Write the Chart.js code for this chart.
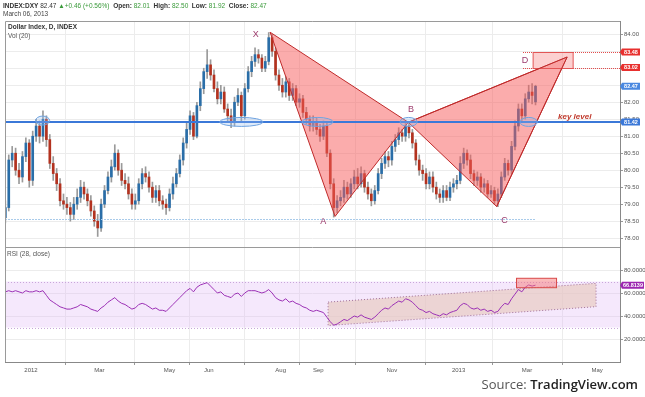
<!DOCTYPE html>
<html lang="en">
<head>
<meta charset="UTF-8">
<title>Dollar Index, D, INDEX</title>
<script src="https://cdn.jsdelivr.net/npm/chart.js"></script>
<style>
  html, body { margin: 0; padding: 0; background: #fff; }
  #wrap { width: 645px; height: 397px; }
</style>
</head>
<body>
<div id="wrap"><canvas id="dxyChart" width="645" height="397"></canvas></div>
<script>
// one candle every two trading days, day 0 = first trading day of 2012
const firstDay = -15;
const dayStep = 2;

const opens = [
  78.6,78.9,80.3,80.5,80.0,79.8,80.4,80.8,79.7,81.0,
  81.3,81.0,81.5,80.9,80.2,79.9,79.6,79.1,79.0,78.9,
  78.7,79.0,79.2,79.5,79.3,79.1,78.8,78.5,78.3,79.0,
  79.4,79.8,80.1,80.5,80.0,79.7,79.6,79.3,79.0,79.1,
  79.6,79.9,79.8,79.5,79.2,79.4,79.1,79.0,78.9,79.3,
  79.6,79.9,80.3,80.8,81.2,81.6,81.0,81.9,82.4,82.9,
  83.1,82.8,82.4,82.1,82.3,81.8,81.6,81.4,82.0,82.2,
  81.6,82.4,82.9,83.2,83.4,83.3,83.0,83.2,83.9,83.5,
  82.8,82.5,82.3,82.6,82.2,82.4,82.0,82.1,81.7,81.5,
  81.3,81.4,81.2,81.0,81.3,80.5,79.6,78.9,79.1,79.2,
  79.5,79.3,79.6,79.8,79.6,79.9,79.5,79.3,79.1,79.4,
  79.9,80.2,80.4,80.3,80.7,80.9,81.1,81.0,81.3,81.1,
  80.8,80.3,80.0,79.9,79.6,79.8,79.5,79.3,79.2,79.4,
  79.2,79.5,79.6,79.7,80.2,80.5,80.3,79.9,79.7,79.8,
  79.5,79.6,79.3,79.4,79.1,79.3,79.8,80.2,80.0,80.7,
  81.3,81.8,81.6,82.1,82.3,82.01
];
const highs = [
  79.1,80.45,80.7,80.65,80.2,80.55,80.95,80.9,81.15,81.5,
  81.45,81.75,81.6,81.05,80.4,80.05,79.75,79.3,79.2,79.05,
  79.2,79.45,79.7,79.65,79.45,79.25,78.95,78.7,79.15,79.55,
  79.95,80.3,80.75,80.6,80.2,79.9,79.8,79.45,79.3,79.75,
  80.05,80.1,79.95,79.65,79.55,79.55,79.25,79.15,79.45,79.8,
  80.05,80.45,80.95,81.4,81.75,81.7,82.0,82.6,83.0,83.55,
  83.25,82.95,82.6,82.5,82.45,81.95,81.8,82.15,82.4,82.3,
  82.55,83.05,83.35,83.6,83.55,83.4,83.35,84.05,84.0,83.6,
  82.95,82.7,82.75,82.7,82.55,82.5,82.25,82.2,81.85,81.6,
  81.6,81.55,81.35,81.45,81.4,80.6,79.75,79.25,79.4,79.7,
  79.65,79.75,80.0,80.05,80.1,80.0,79.65,79.45,79.55,80.05,
  80.35,80.55,80.55,80.85,81.05,81.25,81.2,81.45,81.4,81.2,
  80.9,80.45,80.15,80.05,79.95,79.95,79.65,79.45,79.55,79.55,
  79.65,79.75,79.85,80.4,80.65,80.6,80.45,80.0,79.95,79.9,
  79.75,79.7,79.55,79.5,79.45,79.95,80.35,80.3,80.85,81.45,
  81.95,81.95,82.25,82.5,82.55,82.50
];
const lows = [
  78.45,78.8,80.1,79.85,79.6,79.65,80.25,79.5,79.55,80.85,
  80.8,80.85,80.7,80.05,79.7,79.4,78.95,78.85,78.7,78.5,
  78.55,78.85,79.05,79.15,78.95,78.65,78.35,78.05,78.2,78.9,
  79.3,79.65,80.0,79.85,79.55,79.45,79.15,78.85,78.85,79.0,
  79.45,79.65,79.35,79.05,79.05,78.95,78.85,78.7,78.8,79.15,
  79.5,79.8,80.15,80.65,81.05,80.9,80.95,81.75,82.25,82.7,
  82.65,82.3,81.95,81.95,81.7,81.45,81.25,81.3,81.9,81.45,
  81.5,82.3,82.75,83.05,83.15,82.9,82.9,83.1,83.35,82.65,
  82.35,82.15,82.15,82.05,82.05,81.9,81.85,81.55,81.35,81.15,
  81.15,81.05,80.85,80.9,80.4,79.45,78.62,78.75,78.95,79.05,
  79.15,79.2,79.45,79.45,79.5,79.35,79.15,78.95,79.0,79.3,
  79.75,80.05,80.1,80.15,80.55,80.75,80.85,80.85,80.95,80.65,
  80.15,79.85,79.7,79.45,79.45,79.35,79.15,79.05,79.05,79.1,
  79.1,79.35,79.45,79.6,80.05,80.15,79.75,79.55,79.55,79.35,
  79.35,79.2,79.2,79.0,78.93,79.2,79.7,79.85,79.9,80.6,
  81.15,81.45,81.5,82.0,81.95,81.92
];
const closes = [
  78.9,80.3,80.5,80.0,79.8,80.4,80.8,79.7,81.0,81.3,
  81.0,81.5,80.9,80.2,79.9,79.6,79.1,79.0,78.9,78.7,
  79.0,79.2,79.5,79.3,79.1,78.8,78.5,78.3,79.0,79.4,
  79.8,80.1,80.5,80.0,79.7,79.6,79.3,79.0,79.1,79.6,
  79.9,79.8,79.5,79.2,79.4,79.1,79.0,78.9,79.3,79.6,
  79.9,80.3,80.8,81.2,81.6,81.0,81.9,82.4,82.9,83.1,
  82.8,82.4,82.1,82.3,81.8,81.6,81.4,82.0,82.2,81.6,
  82.4,82.9,83.2,83.4,83.3,83.0,83.2,83.9,83.5,82.8,
  82.5,82.3,82.6,82.2,82.4,82.0,82.1,81.7,81.5,81.3,
  81.4,81.2,81.0,81.3,80.5,79.6,78.9,79.1,79.2,79.5,
  79.3,79.6,79.8,79.6,79.9,79.5,79.3,79.1,79.4,79.9,
  80.2,80.4,80.3,80.7,80.9,81.1,81.0,81.3,81.1,80.8,
  80.3,80.0,79.9,79.6,79.8,79.5,79.3,79.2,79.4,79.2,
  79.5,79.6,79.7,80.2,80.5,80.3,79.9,79.7,79.8,79.5,
  79.6,79.3,79.4,79.1,79.3,79.8,80.2,80.0,80.7,81.3,
  81.8,81.6,82.1,82.3,82.2,82.47
];
const rsi = [
  61,62,61,62,61,60,62,61,61,62,61,62,
  58,54,52,50,48,
  47,46,46,47,48,50,49,48,46,45,44,47,49,
  52,54,56,53,51,50,
  48,46,47,50,51,50,48,46,47,45,45,44,
  47,50,53,56,59,62,64,
  61,65,67,68,69,66,
  63,60,61,58,57,56,59,60,57,
  60,62,62,62,61,60,61,63,
  60,56,54,53,55,52,53,
  51,50,48,47,45,44,45,44,43,39,35,32,
  33,35,37,36,38,40,39,41,39,38,37,39,42,45,47,46,49,51,53,52,55,
  54,52,49,46,45,43,44,42,41,40,42,41,43,44,45,49,51,50,47,46,47,45,46,44,45,43,44,
  48,51,50,55,59,63,61,65,67,66,66.81
];

const xTickDays = [0, 40, 81, 104, 146, 168, 211, 250, 290, 331];
const xTickLabels = ["2012", "Mar", "May", "Jun", "Aug", "Sep", "Nov", "2013", "Mar", "May"];
const priceTicks = [78, 78.5, 79, 79.5, 80, 80.5, 81, 81.5, 82, 82.5, 83, 83.5, 84];
const rsiTicks = [20, 40, 60, 80];

// XABCD pattern
const patternNames = ["X", "A", "B", "C", "D"];
const patternDays = [139.8, 177.8, 220.6, 272.3, 313.5];
const patternPrices = [84.06, 78.64, 81.41, 78.93, 83.33];
const nameDays = [131.4, 170.9, 222.2, 276.8, 288.9];
const namePrices = [83.98, 78.49, 81.80, 78.51, 83.24];

const keyLevel = 81.42;
const supportLevel = 78.57;
const supportEndDay = 295;
const targetLow = 83.02, targetHigh = 83.48;
const targetDays = [293.6, 317];
const targetLineStart = 287.7;
const lastPrice = 82.47;
const lastRsi = 66.8139;

// touches of the key level
const touchDays = [6.8, 123, 167.5, 220.8, 291];
const touchPrices = [81.46, 81.42, 81.42, 81.42, 81.42];
const touchHalfDays = [4.1, 12.6, 9.1, 5, 5.1];

// RSI channel and band
const rsiBand = [30, 70];
const channelDays = [173.7, 330.4];
const channelTop = [52.1, 68.4];
const channelBottom = [31.7, 48.1];
const rsiBoxDays = [283.9, 307.3];
const rsiBox = [64.6, 72.8];

const header = [
  ["INDEX:DXY ", "#333", "bold"], ["82.47 ", "#333", ""], ["\u25B2", "#3a9a3a", ""],
  ["+0.46 (+0.56%)  ", "#3a9a3a", ""], ["Open: ", "#333", "bold"], ["82.01  ", "#3a9a3a", ""],
  ["High: ", "#333", "bold"], ["82.50  ", "#3a9a3a", ""], ["Low: ", "#333", "bold"],
  ["81.92  ", "#3a9a3a", ""], ["Close: ", "#333", "bold"], ["82.47", "#3a9a3a", ""]
];

const FONT = "'Liberation Sans', Arial, sans-serif";
const days = closes.map((_, i) => firstDay + i * dayStep);
const isUp = closes.map((c, i) => c >= opens[i]);

const overlay = {
  id: 'overlay',
  beforeDatasetsDraw(chart) {
    const { ctx, chartArea: a, scales: { x, rsi: r } } = chart;
    ctx.save();
    const yTop = r.getPixelForValue(rsiBand[1]), yBot = r.getPixelForValue(rsiBand[0]);
    ctx.fillStyle = 'rgba(225,190,245,0.35)';
    ctx.fillRect(a.left, yTop, a.right - a.left, yBot - yTop);
    ctx.strokeStyle = '#c9a6da';
    ctx.lineWidth = 1;
    ctx.setLineDash([1, 2]);
    [yTop, yBot].forEach(yy => {
      ctx.beginPath(); ctx.moveTo(a.left, Math.round(yy) + 0.5); ctx.lineTo(a.right, Math.round(yy) + 0.5); ctx.stroke();
    });
    // channel
    const x0 = x.getPixelForValue(channelDays[0]), x1 = x.getPixelForValue(channelDays[1]);
    ctx.beginPath();
    ctx.moveTo(x0, r.getPixelForValue(channelTop[0]));
    ctx.lineTo(x1, r.getPixelForValue(channelTop[1]));
    ctx.lineTo(x1, r.getPixelForValue(channelBottom[1]));
    ctx.lineTo(x0, r.getPixelForValue(channelBottom[0]));
    ctx.closePath();
    ctx.fillStyle = 'rgba(230,196,180,0.55)';
    ctx.fill();
    ctx.strokeStyle = '#a0709a';
    ctx.stroke();
    ctx.restore();
  },
  afterDatasetsDraw(chart) {
    const { ctx, chartArea: a, scales: { x, y, rsi: r } } = chart;
    ctx.save();
    const px = patternDays.map(d => x.getPixelForValue(d));
    const py = patternPrices.map(p => y.getPixelForValue(p));
    [[0, 1, 2], [2, 3, 4]].forEach(t => {
      ctx.beginPath();
      ctx.moveTo(px[t[0]], py[t[0]]);
      ctx.lineTo(px[t[1]], py[t[1]]);
      ctx.lineTo(px[t[2]], py[t[2]]);
      ctx.closePath();
      ctx.fillStyle = 'rgba(248,90,90,0.5)';
      ctx.fill();
      ctx.strokeStyle = '#bf2a2a';
      ctx.lineWidth = 1;
      ctx.stroke();
    });
    // support line
    const ys = Math.round(y.getPixelForValue(supportLevel)) + 0.5;
    ctx.strokeStyle = '#a9cbea';
    ctx.setLineDash([2, 1]);
    ctx.beginPath(); ctx.moveTo(a.left, ys); ctx.lineTo(x.getPixelForValue(supportEndDay), ys); ctx.stroke();
    // target zone
    const t1 = Math.round(y.getPixelForValue(targetHigh)) + 0.5, t2 = Math.round(y.getPixelForValue(targetLow)) + 0.5;
    ctx.strokeStyle = '#e24a4a';
    ctx.setLineDash([1, 1]);
    [t1, t2].forEach(yy => {
      ctx.beginPath(); ctx.moveTo(x.getPixelForValue(targetLineStart), yy); ctx.lineTo(a.right, yy); ctx.stroke();
    });
    ctx.setLineDash([]);
    const zx0 = x.getPixelForValue(targetDays[0]), zx1 = x.getPixelForValue(targetDays[1]);
    ctx.fillStyle = 'rgba(248,150,150,0.45)';
    ctx.fillRect(zx0, t1, zx1 - zx0, t2 - t1);
    ctx.strokeStyle = '#e25555';
    ctx.strokeRect(zx0, t1, zx1 - zx0, t2 - t1);
    // redraw the C-D leg tip over the box
    ctx.beginPath();
    ctx.moveTo(px[3], py[3]); ctx.lineTo(px[4], py[4]); ctx.lineTo(px[2], py[2]);
    ctx.strokeStyle = '#bf2a2a';
    ctx.stroke();
    // key level
    const yk = y.getPixelForValue(keyLevel);
    ctx.strokeStyle = '#3b78d8';
    ctx.lineWidth = 2;
    ctx.beginPath(); ctx.moveTo(a.left, yk); ctx.lineTo(a.right, yk); ctx.stroke();
    // touches
    ctx.lineWidth = 1;
    touchDays.forEach((d, i) => {
      const cx = x.getPixelForValue(d), cy = y.getPixelForValue(touchPrices[i]);
      const rx = x.getPixelForValue(d + touchHalfDays[i]) - cx;
      ctx.beginPath();
      ctx.ellipse(cx, cy, rx, 4.5, 0, 0, Math.PI * 2);
      ctx.fillStyle = 'rgba(150,190,240,0.3)';
      ctx.fill();
      ctx.strokeStyle = '#6fa3e0';
      ctx.stroke();
    });
    // point names
    ctx.fillStyle = '#9b3a6c';
    ctx.font = '9px ' + FONT;
    ctx.textAlign = 'center';
    ctx.textBaseline = 'middle';
    patternNames.forEach((n, i) => ctx.fillText(n, x.getPixelForValue(nameDays[i]), y.getPixelForValue(namePrices[i])));
    ctx.font = 'italic bold 8px ' + FONT;
    ctx.fillStyle = '#c0392b';
    ctx.textAlign = 'left';
    ctx.textBaseline = 'bottom';
    ctx.fillText('key level', a.right - 62, yk - 1.5);
    // RSI box
    const bx0 = x.getPixelForValue(rsiBoxDays[0]), bx1 = x.getPixelForValue(rsiBoxDays[1]);
    const by0 = r.getPixelForValue(rsiBox[1]), by1 = r.getPixelForValue(rsiBox[0]);
    ctx.fillStyle = 'rgba(245,120,120,0.5)';
    ctx.fillRect(bx0, by0, bx1 - bx0, by1 - by0);
    ctx.strokeStyle = '#d94848';
    ctx.strokeRect(bx0, by0, bx1 - bx0, by1 - by0);
    ctx.restore();
  },
  afterDraw(chart) {
    const { ctx, chartArea: a, scales: { y, rsi: r } } = chart;
    ctx.save();
    // frame
    ctx.strokeStyle = '#9a9a9a';
    ctx.lineWidth = 1;
    ctx.beginPath();
    ctx.moveTo(a.left + 0.5, a.bottom); ctx.lineTo(a.left + 0.5, a.top + 0.5); ctx.lineTo(a.right, a.top + 0.5);
    ctx.moveTo(a.left, Math.round(r.top) + 0.5); ctx.lineTo(a.right, Math.round(r.top) + 0.5);
    ctx.stroke();
    // axis value boxes
    const tag = (scale, v, color, txt, w) => {
      const yy = scale.getPixelForValue(v);
      ctx.fillStyle = color;
      ctx.beginPath();
      ctx.moveTo(a.right, yy);
      ctx.lineTo(a.right + 2, yy - 3.5);
      ctx.lineTo(a.right + w, yy - 3.5);
      ctx.lineTo(a.right + w, yy + 3.5);
      ctx.lineTo(a.right + 2, yy + 3.5);
      ctx.closePath();
      ctx.fill();
      ctx.fillStyle = '#fff';
      ctx.font = 'bold 5.5px ' + FONT;
      ctx.textAlign = 'center';
      ctx.textBaseline = 'middle';
      ctx.fillText(txt, a.right + 1 + w / 2, yy + 0.3);
    };
    tag(y, targetHigh, '#e8302e', targetHigh.toFixed(2), 20);
    tag(y, targetLow, '#e8302e', targetLow.toFixed(2), 20);
    tag(y, lastPrice, '#4a88e0', lastPrice.toFixed(2), 20);
    tag(y, keyLevel, '#3b78d8', keyLevel.toFixed(2), 20);
    tag(r, lastRsi, '#9c27b0', lastRsi.toFixed(4), 24);
    // header
    ctx.textAlign = 'left';
    ctx.textBaseline = 'alphabetic';
    let hx = 3;
    header.forEach(([t, c, w]) => {
      ctx.font = (w ? w + ' ' : '') + '6.5px ' + FONT;
      ctx.fillStyle = c;
      ctx.fillText(t, hx, 8);
      hx += ctx.measureText(t).width;
    });
    ctx.font = '6.5px ' + FONT;
    ctx.fillStyle = '#444';
    ctx.fillText('March 06, 2013', 3, 16);
    ctx.font = 'bold 6.5px ' + FONT;
    ctx.fillStyle = '#333';
    ctx.fillText('Dollar Index, D, INDEX', 8, 29);
    ctx.font = '6.5px ' + FONT;
    ctx.fillStyle = '#555';
    ctx.fillText('Vol (20)', 8, 38);
    ctx.fillText('RSI (28, close)', 7, r.top + 9);
    // source
    ctx.textAlign = 'right';
    ctx.font = "600 13px 'Open Sans', sans-serif";
    ctx.fillStyle = '#222';
    const brand = 'TradingView.com';
    ctx.fillText(brand, 638, 389);
    const bw = ctx.measureText(brand).width;
    ctx.font = "13px 'Open Sans', sans-serif";
    ctx.fillStyle = '#555';
    ctx.fillText('Source: ', 638 - bw, 389);
    ctx.restore();
  }
};

new Chart(document.getElementById('dxyChart'), {
  type: 'bar',
  data: {
    datasets: [
      {
        label: 'Wick',
        data: days.map((d, i) => ({ x: d, y: [lows[i], highs[i]] })),
        backgroundColor: '#9a9a9a',
        barThickness: 1,
        grouped: false,
        yAxisID: 'y',
        order: 3
      },
      {
        label: 'Body',
        data: days.map((d, i) => ({ x: d, y: [opens[i], closes[i]] })),
        backgroundColor: isUp.map(u => u ? '#2a6ea8' : '#b3321f'),
        barThickness: 2,
        grouped: false,
        yAxisID: 'y',
        order: 2
      },
      {
        type: 'line',
        label: 'RSI (28, close)',
        data: days.map((d, i) => ({ x: d, y: rsi[i] })),
        borderColor: '#9b30b5',
        borderWidth: 1,
        pointRadius: 0,
        tension: 0,
        yAxisID: 'rsi',
        order: 1
      }
    ]
  },
  options: {
    responsive: false,
    animation: false,
    devicePixelRatio: 1,
    layout: { padding: { left: 5, top: 21, right: 0, bottom: 0 } },
    plugins: { legend: { display: false }, tooltip: { enabled: false } },
    scales: {
      x: {
        type: 'linear',
        min: -15.2,
        max: 344.4,
        offset: false,
        grid: { color: '#ececec', tickLength: 3, tickColor: '#999' },
        border: { color: '#888' },
        afterBuildTicks: s => { s.ticks = xTickDays.map(v => ({ value: v })); },
        afterFit: s => { s.height = 35; },
        ticks: {
          autoSkip: false, maxRotation: 0, padding: 2, color: '#555',
          font: { size: 6, family: FONT },
          callback: (v, i) => xTickLabels[i]
        }
      },
      y: {
        type: 'linear',
        position: 'right',
        stack: 'panes',
        stackWeight: 226,
        min: 77.74,
        max: 84.39,
        grid: { color: '#ececec', tickLength: 3, tickColor: '#999' },
        border: { color: '#888' },
        afterBuildTicks: s => { s.ticks = priceTicks.map(v => ({ value: v })); },
        afterFit: s => { s.width = 25; },
        ticks: { padding: 1, color: '#555', font: { size: 6, family: FONT }, callback: v => v.toFixed(2) }
      },
      rsi: {
        type: 'linear',
        position: 'right',
        stack: 'panes',
        stackWeight: 115,
        min: 0,
        max: 100,
        grid: { color: '#ececec', tickLength: 3, tickColor: '#999' },
        border: { color: '#888' },
        afterBuildTicks: s => { s.ticks = rsiTicks.map(v => ({ value: v })); },
        afterFit: s => { s.width = 25; },
        ticks: { padding: 1, color: '#555', font: { size: 6, family: FONT }, callback: v => v.toFixed(4) }
      }
    }
  },
  plugins: [overlay]
});
</script>
</body>
</html>
